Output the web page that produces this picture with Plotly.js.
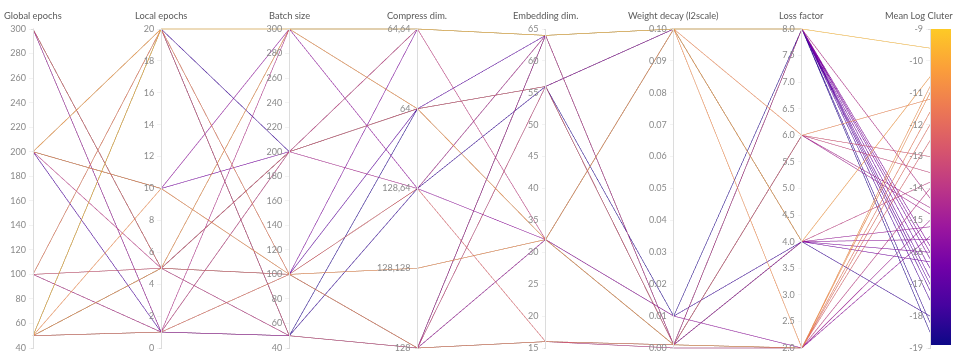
<!DOCTYPE html>
<html>
<head>
<meta charset="utf-8">
<script src="https://cdn.plot.ly/plotly-3.0.1.min.js"></script>
<style>
html,body{margin:0;padding:0;background:#fff;}
#chart{width:958px;height:351px;}
.parcoords text{text-shadow:none !important;}
.parcoords .axis .domain{stroke:#dcdcdc !important;stroke-opacity:1 !important;}
.parcoords .axis .tick line{stroke:#cfcfcf !important;}
</style>
</head>
<body>
<div id="chart"></div>
<script>
// ---- data (one entry per run) ----
const globalEpochs = [300,300,300,300,300, 200,200,200,200,200,200,200, 100,100,100,100,100,100, 50,50,50,50,50,50,50,50,50,50,50,50,50,50];
const localEpochs  = [5,1,5,1,5, 20,10,10,5,1,10,20, 5,5,1,1,20,20, 20,20,20,20,5,5,5,1,1,1,10,20,5,1];
const batchSize    = [50,100,200,50,100, 300,100,200,50,50,300,100, 200,100,50,300,100,50, 50,300,200,50,200,300,100,100,200,50,100,50,300,200];
const compressDimLabels = ["128","128,128","128,64","64","64,64"];
const compressDim  = ["128","64","64,64","128","128,64", "64,64","128,128","64","128","128","128,64","128", "64","64,64","128","64,64","128","64", "128,64","64,64","64","128","64","64","128,64","128","128,64","128","128,128","128","64","64,64"];
const embeddingDim = [64,56,64,32,16, 64,32,56,16,64,32,64, 56,64,32,64,16,56, 56,64,32,56,56,32,64,16,64,56,32,16,64,32];
const weightDecay  = [0.001,0.1,0.001,0.001,0.001, 0.1,0.1,0.001,0,0.001,0.01,0.001, 0.001,0.1,0.001,0.001,0.001,0.01, 0.1,0.1,0.01,0.001,0.1,0.001,0.001,0.001,0.001,0.001,0.1,0,0.001,0.1];
const lossFactor   = [8,8,8,4,2, 4,6,8,2,8,2,6, 6,8,4,8,2,8, 8,8,4,6,4,2,8,2,6,4,2,2,8,4];
const meanLogCluter= [-16.5,-17.0,-15.8,-15.2,-12.5, -10.5,-11.2,-16.2,-14.0,-17.5,-15.5,-14.8, -13.0,-16.0,-16.3,-14.3,-11.6,-18.5, -18.2,-9.6,-18.0,-13.5,-15.6,-10.8,-16.8,-12.0,-14.6,-16.0,-11.0,-15.0,-17.2,-13.8];

const axisTitles = ['Global epochs','Local epochs','Batch size','Compress dim.','Embedding dim.','Weight decay (l2scale)','Loss factor','Mean Log Cluter'];
const ticks40to300 = [40,60,80,100,120,140,160,180,200,220,240,260,280,300];
const ticksLocal = [0,2,4,6,8,10,12,14,16,18,20];
const ticksEmb = [15,20,25,30,35,40,45,50,55,60,65];
const ticksWD = [0,0.01,0.02,0.03,0.04,0.05,0.06,0.07,0.08,0.09,0.1];
const ticksWDText = ["0.00","0.01","0.02","0.03","0.04","0.05","0.06","0.07","0.08","0.09","0.10"];
const ticksLF = [2,2.5,3,3.5,4,4.5,5,5.5,6,6.5,7,7.5,8];
const ticksLFText = ["2.0","2.5","3.0","3.5","4.0","4.5","5.0","5.5","6.0","6.5","7.0","7.5","8.0"];
const ticksML = [-19,-18,-17,-16,-15,-14,-13,-12,-11,-10,-9];

const compressIdx = compressDim.map(v => compressDimLabels.indexOf(v));

const plasma = [
  [0,'#0d0887'],[0.125,'#46039f'],[0.25,'#7201a8'],[0.375,'#9c179e'],
  [0.5,'#bd3786'],[0.625,'#d8576b'],[0.75,'#ed7953'],[0.875,'#fb9f3a'],[1,'#fdca26']
];

const FONT = 'Lato, "Noto Sans", sans-serif';
const H = 351, MT = 27, MB = 1, PH = H - MT - MB;

const trace = {
  type: 'parcoords',
  domain: {x:[0,1], y:[0,1]},
  labelangle: 0,
  labelside: 'top',
  labelfont: {family: FONT, size: 1, color: 'rgba(0,0,0,0)'},
  tickfont: {family: FONT, size: 9, color: '#8a8a8a'},
  rangefont: {size: 1, color: 'rgba(0,0,0,0)'},
  line: {
    color: meanLogCluter,
    colorscale: plasma,
    cmin: -19, cmax: -9,
    showscale: true,
    colorbar: {
      x: 1, xanchor: 'left', xpad: 0,
      y: (H - MB - 29) / PH, yanchor: 'top', ypad: 0,
      lenmode: 'pixels', len: 316,
      thickness: 21, outlinewidth: 0,
      showticklabels: false, ticks: ''
    }
  },
  dimensions: [
    {label: '', values: globalEpochs, range: [40,300], tickvals: ticks40to300},
    {label: '', values: localEpochs, range: [0,20], tickvals: ticksLocal},
    {label: '', values: batchSize, range: [40,300], tickvals: ticks40to300},
    {label: '', values: compressIdx, range: [0,4], tickvals: [0,1,2,3,4], ticktext: compressDimLabels},
    {label: '', values: embeddingDim, range: [15,65], tickvals: ticksEmb},
    {label: '', values: weightDecay, range: [0,0.1], tickvals: ticksWD, ticktext: ticksWDText},
    {label: '', values: lossFactor, range: [2,8], tickvals: ticksLF, ticktext: ticksLFText},
    {label: '', values: meanLogCluter, range: [-19,-9], tickvals: ticksML}
  ]
};

const nT = axisTitles.length;
const annotations = axisTitles.map((t, i) => ({
  text: t, xref: 'paper', yref: 'paper',
  x: i / (nT - 1), y: (H - MB - 15) / PH,
  xanchor: i === nT - 1 ? 'right' : 'center',
  xshift: i === nT - 1 ? 25 : 0,
  yanchor: 'middle', showarrow: false,
  font: {family: FONT, size: 9.3, color: '#5a5a5a'}
}));

const layout = {
  width: 958, height: H,
  margin: {l: 33, r: 28, t: MT, b: MB},
  paper_bgcolor: '#fff',
  plot_bgcolor: '#fff',
  font: {family: FONT},
  annotations: annotations
};

Plotly.newPlot('chart', [trace], layout, {displayModeBar: false});
</script>
</body>
</html>
